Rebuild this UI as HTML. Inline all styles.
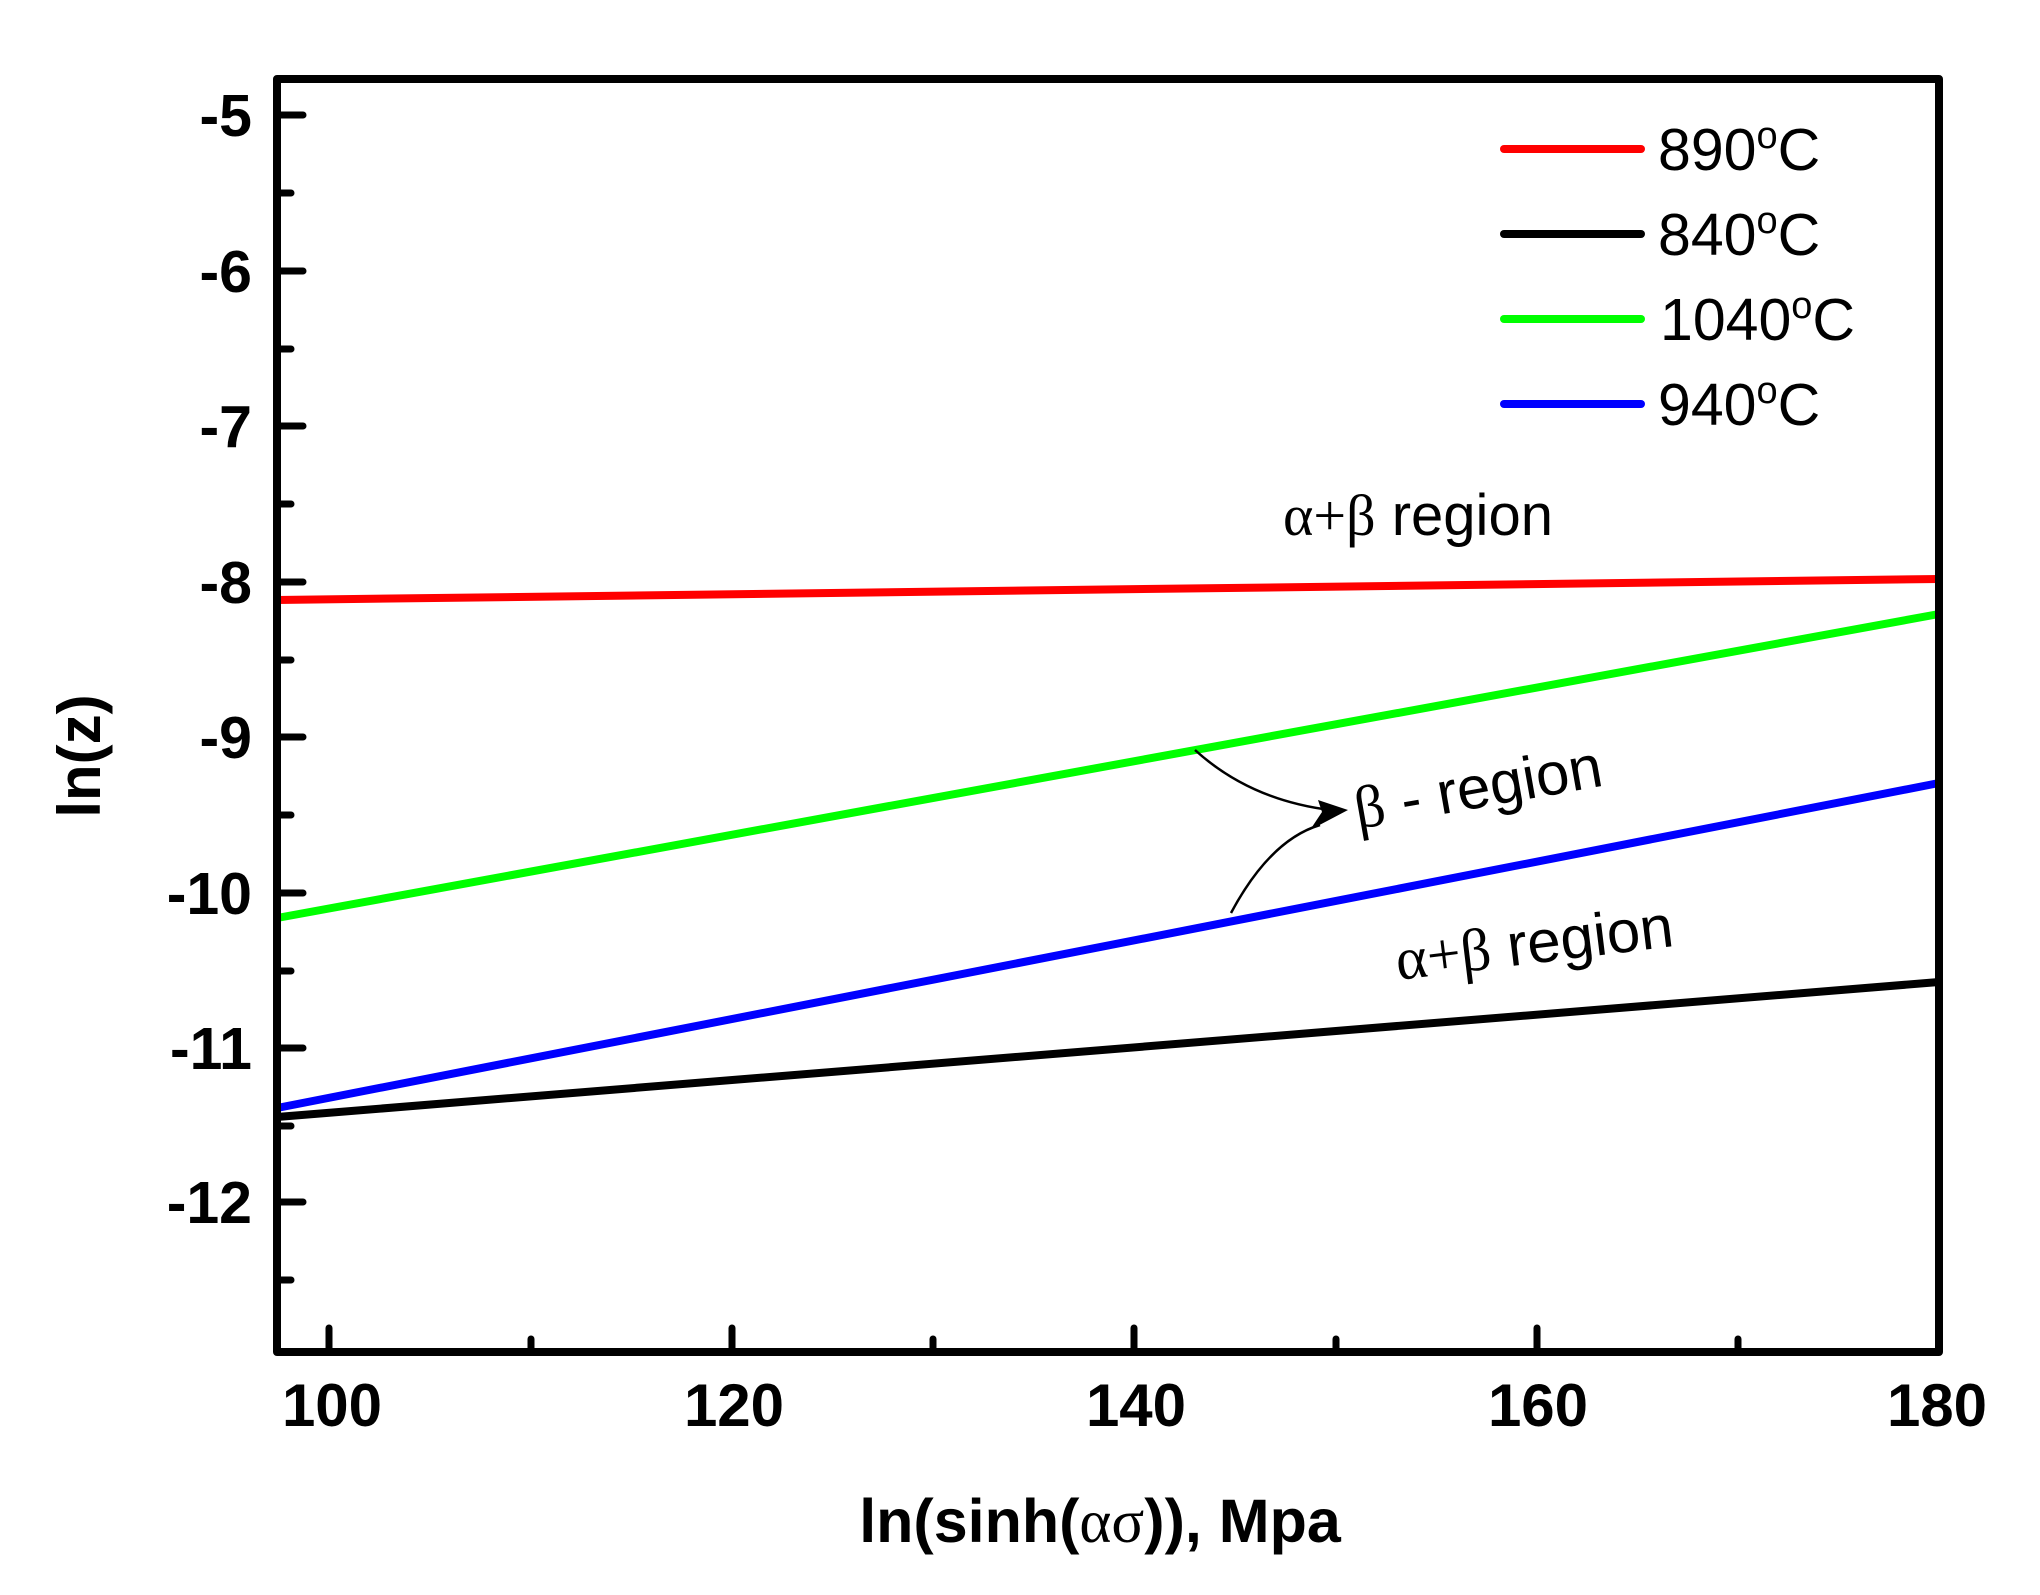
<!DOCTYPE html>
<html><head><meta charset="utf-8"><style>html,body{margin:0;padding:0;background:#fff}svg{display:block}</style></head>
<body>
<svg width="2040" height="1595" viewBox="0 0 2040 1595" xmlns="http://www.w3.org/2000/svg">
<rect width="2040" height="1595" fill="#fff"/>
<g stroke-width="8" stroke-linecap="butt" fill="none">
<line x1="277" y1="600" x2="1939" y2="579" stroke="#ff0000"/>
<line x1="277" y1="918" x2="1939" y2="614" stroke="#00ff00"/>
<line x1="277" y1="1108" x2="1939" y2="783" stroke="#0000ff"/>
<line x1="277" y1="1117" x2="1939" y2="982" stroke="#000"/>
</g>
<rect x="277" y="79" width="1662" height="1273" fill="none" stroke="#000" stroke-width="8" stroke-linejoin="round"/>
<g stroke="#000" stroke-width="7" stroke-linecap="round">
<line x1="277" y1="115" x2="303" y2="115"/>
<line x1="277" y1="271" x2="303" y2="271"/>
<line x1="277" y1="426" x2="303" y2="426"/>
<line x1="277" y1="582" x2="303" y2="582"/>
<line x1="277" y1="737" x2="303" y2="737"/>
<line x1="277" y1="893" x2="303" y2="893"/>
<line x1="277" y1="1048" x2="303" y2="1048"/>
<line x1="277" y1="1202" x2="303" y2="1202"/>
<line x1="277" y1="193" x2="291" y2="193"/>
<line x1="277" y1="349" x2="291" y2="349"/>
<line x1="277" y1="504" x2="291" y2="504"/>
<line x1="277" y1="660" x2="291" y2="660"/>
<line x1="277" y1="815" x2="291" y2="815"/>
<line x1="277" y1="971" x2="291" y2="971"/>
<line x1="277" y1="1126" x2="291" y2="1126"/>
<line x1="277" y1="1280" x2="291" y2="1280"/>
<line x1="329" y1="1352" x2="329" y2="1328"/>
<line x1="732" y1="1352" x2="732" y2="1328"/>
<line x1="1134" y1="1352" x2="1134" y2="1328"/>
<line x1="1537" y1="1352" x2="1537" y2="1328"/>
<line x1="531" y1="1352" x2="531" y2="1339"/>
<line x1="933" y1="1352" x2="933" y2="1339"/>
<line x1="1336" y1="1352" x2="1336" y2="1339"/>
<line x1="1738" y1="1352" x2="1738" y2="1339"/>
</g>
<g font-family="'Liberation Sans',Arial,sans-serif" font-weight="bold" font-size="59" fill="#000">
<g text-anchor="end">
<text x="252" y="136">-5</text>
<text x="252" y="292">-6</text>
<text x="252" y="447">-7</text>
<text x="252" y="603">-8</text>
<text x="252" y="758">-9</text>
<text x="252" y="914">-10</text>
<text x="252" y="1069">-11</text>
<text x="252" y="1223">-12</text>
</g>
<g text-anchor="middle" font-size="60">
<text x="332" y="1426">100</text>
<text x="734" y="1426">120</text>
<text x="1136" y="1426">140</text>
<text x="1538" y="1426">160</text>
<text x="1937" y="1426">180</text>
</g>
<text x="1100" y="1542" text-anchor="middle" font-size="61">ln(sinh(<tspan font-family="'Liberation Serif',serif" font-weight="normal">ασ</tspan>)), Mpa</text>
<text transform="translate(100,756) rotate(-90)" text-anchor="middle" font-size="60">ln(z)</text>
</g>
<g stroke-width="8" stroke-linecap="round">
<line x1="1504" y1="149" x2="1641" y2="149" stroke="#ff0000"/>
<line x1="1504" y1="234" x2="1641" y2="234" stroke="#000"/>
<line x1="1504" y1="319" x2="1641" y2="319" stroke="#00ff00"/>
<line x1="1504" y1="404" x2="1641" y2="404" stroke="#0000ff"/>
</g>
<g font-family="'Liberation Sans',Arial,sans-serif" font-size="59" fill="#000">
<text x="1658" y="170">890<tspan font-size="38" dy="-22">o</tspan><tspan dy="22">C</tspan></text>
<text x="1658" y="255">840<tspan font-size="38" dy="-22">o</tspan><tspan dy="22">C</tspan></text>
<text x="1660" y="340">1040<tspan font-size="38" dy="-22">o</tspan><tspan dy="22">C</tspan></text>
<text x="1658" y="425">940<tspan font-size="38" dy="-22">o</tspan><tspan dy="22">C</tspan></text>
</g>
<g font-family="'Liberation Sans',Arial,sans-serif" font-size="58" fill="#000">
<text x="1283" y="535"><tspan font-family="'Liberation Serif',serif">α+β</tspan> region</text>
<text transform="translate(1358,829) rotate(-10)" font-size="60"><tspan font-family="'Liberation Serif',serif">β</tspan> - region</text>
<text transform="translate(1398,980) rotate(-7)" font-size="60"><tspan font-family="'Liberation Serif',serif">α+β</tspan> region</text>
</g>
<g fill="none" stroke="#000" stroke-width="2.5">
<path d="M1195,750 Q1250,800 1330,810"/>
<path d="M1231,913 Q1270,840 1320,825"/>
</g>
<polygon points="1348,810 1318,800 1322,812 1310,830" fill="#000"/>
</svg>
</body></html>
